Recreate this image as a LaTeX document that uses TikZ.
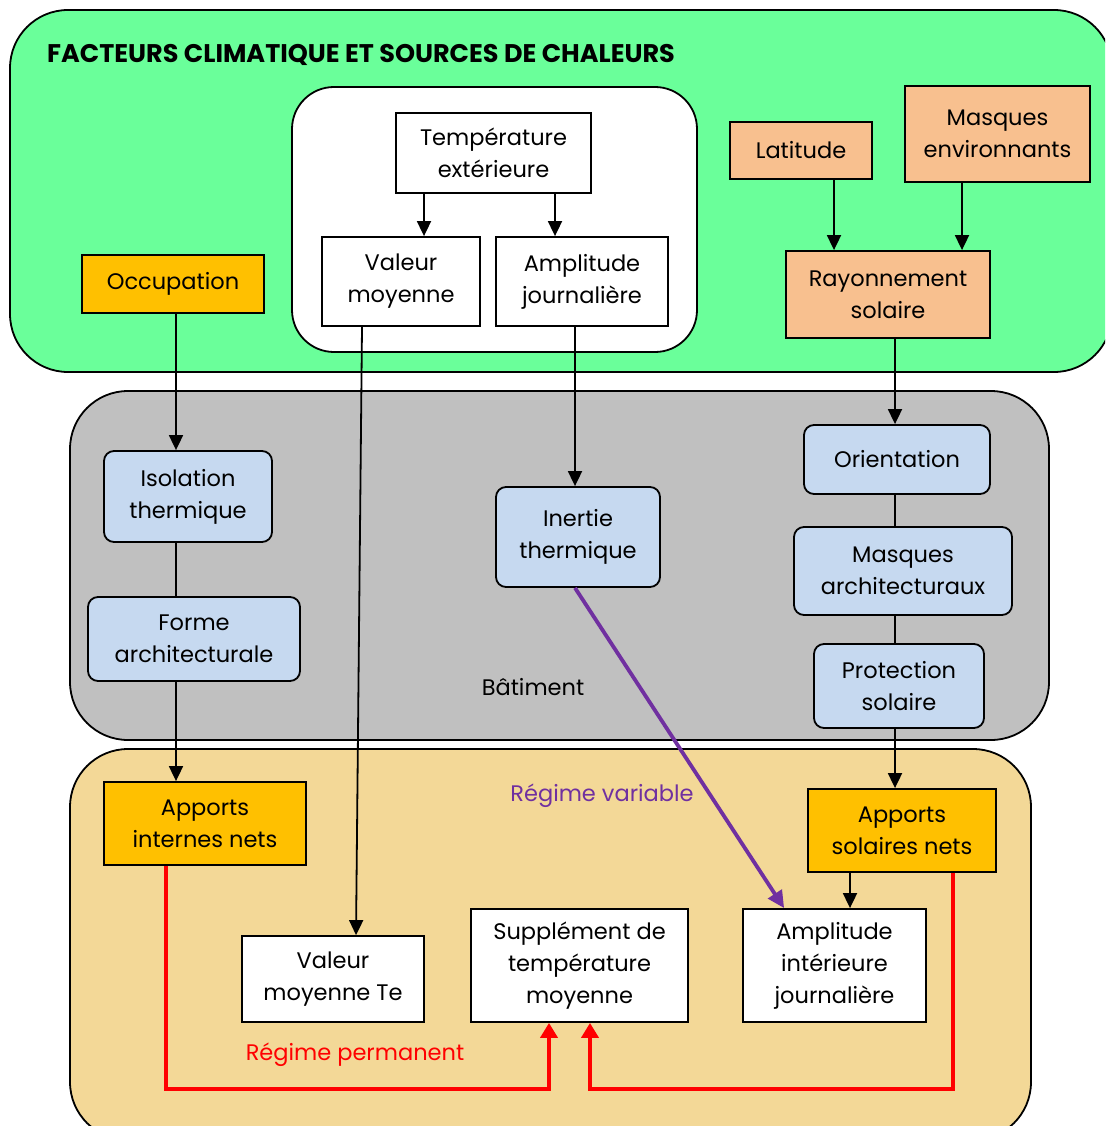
\documentclass[tikz,border=0pt]{standalone}
\usepackage{fontspec}
\setmainfont{Poppins}
\usetikzlibrary{arrows.meta}
\definecolor{zonegreen}{RGB}{106,255,154}
\definecolor{zonegray}{RGB}{192,192,192}
\definecolor{zonebeige}{RGB}{243,216,151}
\definecolor{peach}{RGB}{248,192,143}
\definecolor{amber}{RGB}{255,192,0}
\definecolor{paleblue}{RGB}{198,217,240}
\definecolor{violet}{RGB}{112,48,160}
\definecolor{redline}{RGB}{255,0,0}
\begin{document}
\begin{tikzpicture}[x=1pt,y=-1pt,
  txt/.style={font=\fontsize{22.5}{32}\selectfont, align=center, inner sep=0pt},
  sqbox/.style={txt, draw=black, line width=1.8pt},
  rbox/.style={txt, draw=black, line width=1.8pt, rounded corners=10pt, fill=paleblue},
  whitebox/.style={sqbox, fill=white},
  peachbox/.style={sqbox, fill=peach},
  amberbox/.style={sqbox, fill=amber},
  arr/.style={line width=1.8pt, -{Triangle[width=14pt,length=15pt]}},
  link/.style={line width=1.8pt},
  redarr/.style={draw=redline, line width=4.5pt, -{Triangle[width=17pt,length=15pt]}},
  purplearr/.style={draw=violet, line width=3.8pt, -{Triangle[width=16pt,length=17pt]}}
]
\useasboundingbox (0,0) rectangle (1105,1126);

% zones
\begin{scope}
\clip (0,0) rectangle (1105,1126);
\draw[fill=zonegreen, line width=1.8pt, rounded corners=58pt] (10,10) rectangle (1112,372);
\draw[fill=zonegray, line width=1.8pt, rounded corners=58pt] (70,391) rectangle (1049,740);
\draw[fill=zonebeige, line width=1.8pt, rounded corners=58pt] (70,749) rectangle (1031,1140);
\end{scope}
\draw[fill=white, line width=1.8pt, rounded corners=42pt] (292,87) rectangle (697,352);

\node[txt, font=\fontsize{25.5}{30}\selectfont\bfseries, anchor=west] (title) at (47,55)
  {FACTEURS CLIMATIQUE ET SOURCES DE CHALEURS};

% climate factors
\node[whitebox, minimum width=195, minimum height=80] (temp) at (493.5,153) {Température\\extérieure};
\node[whitebox, minimum width=158, minimum height=89] (valm) at (401,281.5) {Valeur\\moyenne};
\node[whitebox, minimum width=172, minimum height=89] (ampj) at (582,281.5) {Amplitude\\journalière};
\node[amberbox, minimum width=182, minimum height=58] (occ) at (173,284) {Occupation};
\node[peachbox, minimum width=142, minimum height=57] (lat) at (801,150.5) {Latitude};
\node[peachbox, minimum width=185, minimum height=96] (menv) at (997.5,134) {Masques\\environnants};
\node[peachbox, minimum width=204, minimum height=87] (ray) at (888,294.5) {Rayonnement\\solaire};

% building
\node[rbox, minimum width=168, minimum height=91] (iso) at (188,496.5) {Isolation\\thermique};
\node[rbox, minimum width=212, minimum height=84] (forme) at (194,639) {Forme\\architecturale};
\node[rbox, minimum width=164, minimum height=100] (inertie) at (578,537) {Inertie\\thermique};
\node[rbox, minimum width=186, minimum height=69] (orient) at (897,459.5) {Orientation};
\node[rbox, minimum width=218, minimum height=88] (march) at (903,571) {Masques\\architecturaux};
\node[rbox, minimum width=170, minimum height=84] (prot) at (899,686) {Protection\\solaire};
\node[txt] (bat) at (533,687) {Bâtiment};

% results
\node[amberbox, minimum width=202, minimum height=83] (aint) at (205,823.5) {Apports\\internes nets};
\node[amberbox, minimum width=188, minimum height=83] (asol) at (902,830.5) {Apports\\solaires nets};
\node[whitebox, minimum width=182, minimum height=86] (vmte) at (333,979) {Valeur\\moyenne Te};
\node[whitebox, minimum width=217, minimum height=113] (supp) at (579.5,965.5) {Supplément de\\température\\moyenne};
\node[whitebox, minimum width=183, minimum height=113] (ampi) at (834.5,965.5) {Amplitude\\intérieure\\journalière};
\node[txt, text=violet] (regvar) at (602,796) {Régime variable};
\node[txt, text=redline] (regperm) at (355,1055) {Régime permanent};

% connectors
\draw[arr] ([xshift=-69.5]temp.south) -- ([xshift=23]valm.north);
\draw[arr] ([xshift=61.5]temp.south) -- ([xshift=-27]ampj.north);
\draw[arr] ([xshift=33]lat.south) -- ([xshift=-54]ray.north);
\draw[arr] ([xshift=-35.5]menv.south) -- ([xshift=74]ray.north);
\draw[arr] ([xshift=3]occ.south) -- ([xshift=-12]iso.north);
\draw[link] ([xshift=-12]iso.south) -- ([xshift=-18]forme.north);
\draw[arr] ([xshift=-18]forme.south) -- ([xshift=-29]aint.north);
\draw[arr] ([xshift=-39]valm.south) -- ([xshift=23]vmte.north);
\draw[arr] ([xshift=-7]ampj.south) -- ([xshift=-3]inertie.north);
\draw[arr] ([xshift=7]ray.south) -- ([xshift=-2]orient.north);
\draw[link] ([xshift=-2]orient.south) -- ([xshift=-8]march.north);
\draw[link] ([xshift=-8]march.south) -- ([xshift=-4]prot.north);
\draw[arr] ([xshift=-4]prot.south) -- ([xshift=-7]asol.north);
\draw[arr] ([xshift=-52]asol.south) -- ([xshift=15.5]ampi.north);
\draw[purplearr] ([xshift=-3]inertie.south) -- ([xshift=42]ampi.north west);
\draw[redarr] ([xshift=-39]aint.south) -- ++(0,223) -| ([xshift=-30.5]supp.south);
\draw[redarr] ([xshift=51]asol.south) -- ++(0,216) -| ([xshift=10.5]supp.south);
\end{tikzpicture}
\end{document}
